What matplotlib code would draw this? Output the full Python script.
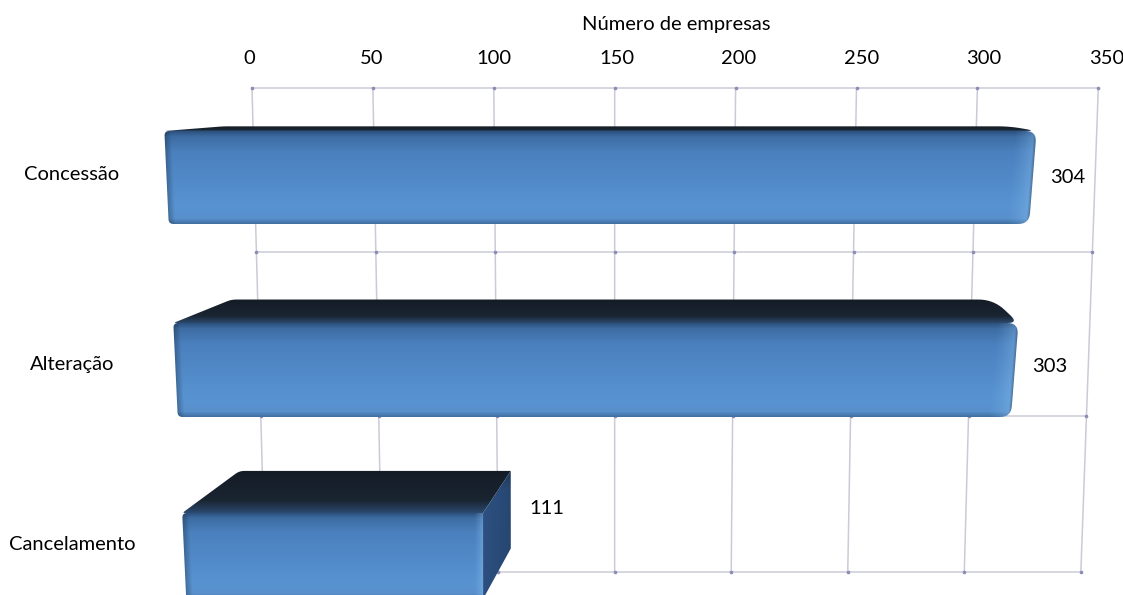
import numpy as np
import matplotlib.pyplot as plt
from matplotlib.patches import Polygon
from matplotlib.colors import to_rgb

# dados
categorias = ['Concessão', 'Alteração', 'Cancelamento']
empresas = [304, 303, 111]
ticks = [0, 50, 100, 150, 200, 250, 300, 350]
titulo = 'Número de empresas'

plt.rcParams['font.family'] = ['Lato', 'DejaVu Sans']

W, H = 1123, 595
fig = plt.figure(figsize=(W / 100, H / 100), dpi=100)
ax = fig.add_axes([0, 0, 1, 1])

# layout of the 3d box (pixel space)
VP = (766.0, 83.5)          # vanishing point for the bar depth
K = 0.902                   # scale of the back face of a bar
wall_rows = [88, 252, 416, 572]
row_top = [131, 323, 513]
row_h = [93, 94, 86]
rounded = [True, True, False]
label_depth = [0.2, 0.2, 1.0]
cat_base = [180, 370, 550]
cat_x = 72
tick_y = 64
grid_col = '#cbcbd7'


def wall_x(v, y):
    t = (y - wall_rows[0]) / (wall_rows[-1] - wall_rows[0])
    return (252 + 2.418 * v) * (1 - t) + (265 + 2.331 * v) * t


def front_x(v, y):
    return 166.5 + 0.0467 * (y - 177) + v * (2.850 - 0.000416 * (y - 177))


def back(x, y):
    return VP[0] + (x - VP[0]) * K, VP[1] + (y - VP[1]) * K


def ramp(t, stops):
    pos = [s[0] for s in stops]
    cols = np.array([to_rgb(s[1]) for s in stops])
    return np.stack([np.interp(t, pos, cols[:, c]) for c in range(3)], axis=-1)


def round_poly(pts, radii, n=10):
    out = []
    m = len(pts)
    for i in range(m):
        p = np.array(pts[i], float)
        r = radii[i]
        if r <= 0:
            out.append(p)
            continue
        a = np.array(pts[i - 1], float)
        b = np.array(pts[(i + 1) % m], float)
        r = min(r, 0.45 * np.linalg.norm(a - p), 0.45 * np.linalg.norm(b - p))
        pa = p + (a - p) / np.linalg.norm(a - p) * r
        pb = p + (b - p) / np.linalg.norm(b - p) * r
        for s in np.linspace(0, 1, n):
            out.append((1 - s) ** 2 * pa + 2 * s * (1 - s) * p + s ** 2 * pb)
    return np.array(out)


def shade(pts, colour_fn, z):
    patch = Polygon(pts, closed=True, facecolor='none', edgecolor='none')
    ax.add_patch(patch)
    x0, y0 = np.floor(pts.min(0)) - 1
    x1, y1 = np.ceil(pts.max(0)) + 1
    X, Y = np.meshgrid(np.arange(x0, x1) + 0.5, np.arange(y0, y1) + 0.5)
    im = ax.imshow(colour_fn(X, Y), extent=(x0, x1, y1, y0), origin='upper',
                   zorder=z, interpolation='bilinear')
    im.set_clip_path(patch)


FRONT = [(0, '#2c4f7c'), (0.06, '#3d6ca2'), (0.22, '#4a80bd'), (0.5, '#5189c7'),
         (0.8, '#5893d1'), (0.94, '#5890cc'), (1, '#3f6d9e')]
TOP = [(0, '#141c26'), (0.7, '#1a2532'), (1, '#2c4a70')]
SIDE = [(0, '#233e62'), (0.15, '#2d5182'), (1, '#2c5080')]

# grid on the back wall
for v in ticks:
    ax.plot([wall_x(v, wall_rows[0]), wall_x(v, wall_rows[-1])],
            [wall_rows[0], wall_rows[-1]], color=grid_col, lw=1.1, zorder=1)
for y in wall_rows:
    ax.plot([wall_x(0, y), wall_x(ticks[-1], y)], [y, y], color=grid_col, lw=1.1, zorder=1)
    ax.plot([wall_x(v, y) for v in ticks], [y] * len(ticks), ls='none', marker='o',
            ms=1.6, color='#8c8cb8', zorder=1.5)

# bars
for i, (nome, val) in enumerate(zip(categorias, empresas)):
    top = row_top[i]
    bot = top + row_h[i]
    fl, fr = front_x(0, top), front_x(val, top)
    bl, bt = back(fl, top)
    br, _ = back(fr, top)
    rr = 11 if rounded[i] else 0

    # top face
    top_pts = round_poly([(fl, top), (fr, top), (br, bt), (bl, bt)],
                         [3, rr, rr * 1.6, 5])
    shade(top_pts, lambda X, Y, a=bt, b=top: ramp(np.clip((Y - a) / (b - a), 0, 1), TOP), 2)

    # end face on the right when it can be seen
    frb = front_x(val, bot)
    brb, bb = back(frb, bot)
    if br > fr:
        side_pts = np.array([(fr, top), (br, bt), (brb, bb), (frb, bot)])

        def side_col(X, Y, x0=fr, x1=br):
            u = np.clip((X - x0) / (x1 - x0), 0, 1)
            c = ramp(np.clip((Y - bt) / (bot - bt), 0, 1), SIDE)
            return c * (1 - 0.12 * u[..., None])
        shade(side_pts, side_col, 2)

    # front face
    front_pts = round_poly([(fl, top), (fr, top), (frb, bot), (front_x(0, bot), bot)],
                           [5, rr, rr, 5])

    def front_col(X, Y, top=top, bot=bot, val=val, rnd=rounded[i]):
        t = np.clip((Y - top) / (bot - top), 0, 1)
        c = ramp(t, FRONT)
        dr = front_x(val, Y) - X
        dl = X - front_x(0, Y)
        w = 22 if rnd else 9
        hl = (np.clip(1 - dr / w, 0, 1) ** 1.3 * 0.45)[..., None]
        c = c * (1 - hl) + np.array(to_rgb('#86bdef')) * hl
        rim = (np.clip(1 - dr / 3, 0, 1) * (0.3 if rnd else 0.0))[..., None]
        c = c * (1 - rim)
        ld = (np.clip(1 - dl / 7, 0, 1) * 0.25)[..., None]
        return c * (1 - ld)
    shade(front_pts, front_col, 3)

    # labels
    d = label_depth[i]
    lx = fr + (br - fr) * d
    cy = (top + min(bot, 593)) / 2
    ly = cy + (back(fr, cy)[1] - cy) * d
    ax.text(lx + 19, ly + 7.5, str(val), ha='left', va='baseline', fontsize=14.5, zorder=5)
    ax.text(cat_x, cat_base[i], nome, ha='center', va='baseline', fontsize=14.5, zorder=5)

# value axis on top
for v in ticks:
    ax.text(249 + 2.45 * v, tick_y, str(v), ha='center', va='baseline', fontsize=14.5)
ax.text(676, 30, titulo, ha='center', va='baseline', fontsize=14.5)

ax.set_xlim(0, W)
ax.set_ylim(H, 0)
ax.set_aspect('auto')
ax.axis('off')
fig.savefig('out.png', dpi=100, facecolor='white')
